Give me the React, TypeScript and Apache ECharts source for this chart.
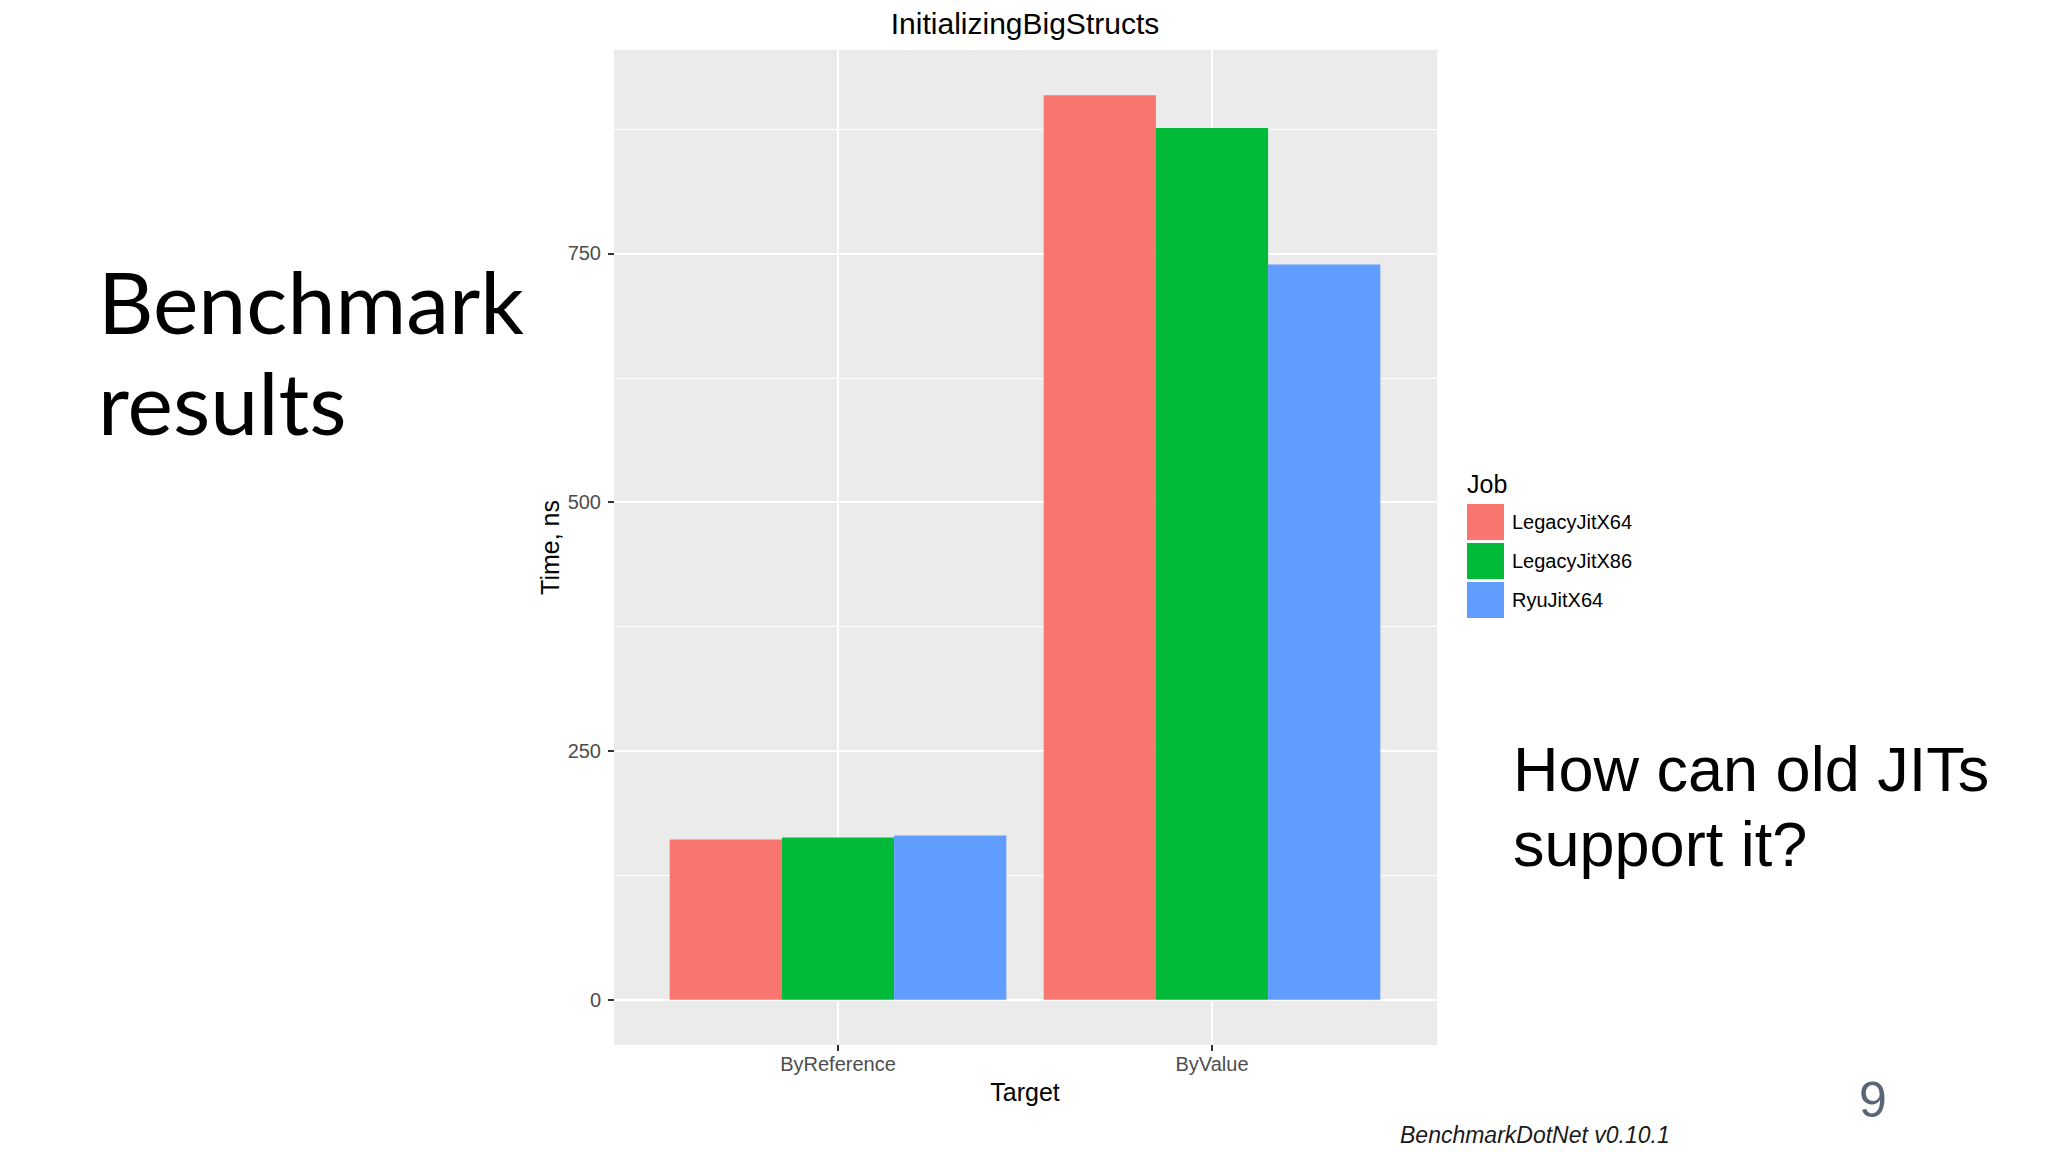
import React, { useEffect, useRef } from "react";
import * as echarts from "echarts";

// ---- data ----
const categories = ["ByReference", "ByValue"];
const jobs = ["LegacyJitX64", "LegacyJitX86", "RyuJitX64"];
const legacyJitX64 = [161, 909];
const legacyJitX86 = [163, 876];
const ryuJitX64 = [165, 739];
const majorTicks = [0, 250, 500, 750];
const minorTicks = [125, 375, 625, 875];
const jobColors = ["#F8766D", "#00BA38", "#619CFF"];

const chartTitle = "InitializingBigStructs";
const xTitle = "Target";
const yTitle = "Time, ns";
const legendTitle = "Job";

const FONT = '"Liberation Sans", Arial, sans-serif';

export default function App() {
  const ref = useRef<HTMLDivElement>(null);

  useEffect(() => {
    if (!ref.current) return;
    const chart = echarts.init(ref.current, null, { renderer: "svg" });

    const seriesValues = [legacyJitX64, legacyJitX86, ryuJitX64];
    const maxVal = Math.max(...seriesValues.flat());
    const yMin = -0.05 * maxVal;
    const yMax = maxVal * 1.05;

    const option: any = {
      animation: false,
      backgroundColor: "#ffffff",
      textStyle: { fontFamily: FONT },
      grid: [
        {
          left: 614,
          top: 50,
          width: 823,
          height: 995,
          show: true,
          backgroundColor: "#EBEBEB",
          borderWidth: 0,
          containLabel: false,
          outerBoundsMode: "none",
        },
        {
          left: 651,
          top: 50,
          width: 748,
          height: 995,
          show: false,
          containLabel: false,
          outerBoundsMode: "none",
        },
      ],
      xAxis: [
        { type: "value", gridIndex: 0, min: 0, max: 1, show: false },
        {
          type: "category",
          gridIndex: 1,
          position: "bottom",
          data: categories,
          axisLine: { show: false, onZero: false },
          axisTick: {
            show: true,
            alignWithLabel: true,
            length: 6,
            lineStyle: { color: "#333333", width: 2 },
          },
          axisLabel: {
            fontSize: 20,
            color: "#4D4D4D",
            margin: 9,
            fontFamily: FONT,
          },
          splitLine: {
            show: true,
            alignWithLabel: true,
            lineStyle: { color: "#ffffff", width: 2 },
          },
          name: xTitle,
          nameLocation: "middle",
          nameGap: 34,
          nameTextStyle: { fontSize: 25, color: "#000000", fontFamily: FONT },
        },
      ],
      yAxis: [
        {
          type: "value",
          gridIndex: 0,
          min: yMin,
          max: yMax,
          axisLine: { show: false, onZero: false },
          axisTick: {
            show: true,
            length: 6,
            customValues: majorTicks,
            lineStyle: { color: "#333333", width: 2 },
          },
          axisLabel: {
            customValues: majorTicks,
            fontSize: 20,
            color: "#4D4D4D",
            margin: 13,
            fontFamily: FONT,
          },
          splitLine: { show: true, lineStyle: { color: "#ffffff", width: 2 } },
          name: yTitle,
          nameLocation: "middle",
          nameGap: 52,
          nameRotate: 90,
          nameTextStyle: { fontSize: 25, color: "#000000", fontFamily: FONT },
        },
        {
          type: "value",
          gridIndex: 0,
          position: "right",
          min: yMin,
          max: yMax,
          axisLine: { show: false, onZero: false },
          axisTick: { show: false, customValues: minorTicks },
          axisLabel: { show: false, customValues: minorTicks },
          splitLine: { show: true, lineStyle: { color: "#ffffff", width: 1 } },
        },
        { type: "value", gridIndex: 1, min: yMin, max: yMax, show: false },
      ],
      legend: {
        orient: "vertical",
        left: 1467,
        top: 504,
        padding: 0,
        itemWidth: 37,
        itemHeight: 36,
        itemGap: 3,
        icon: "rect",
        selectedMode: false,
        data: jobs,
        textStyle: {
          fontSize: 20,
          color: "#000000",
          fontFamily: FONT,
          padding: [0, 0, 0, 3],
        },
      },
      series: jobs.map((name, i) => ({
        type: "bar",
        name,
        xAxisIndex: 1,
        yAxisIndex: 2,
        data: seriesValues[i],
        itemStyle: { color: jobColors[i] },
        barGap: "0%",
        barCategoryGap: "10%",
      })),
      graphic: [
        {
          type: "text",
          x: 1025,
          y: 23,
          style: {
            text: chartTitle,
            fontSize: 30,
            fontFamily: FONT,
            fill: "#000000",
            align: "center",
            verticalAlign: "middle",
          },
        },
        {
          type: "text",
          x: 1467,
          y: 484,
          style: {
            text: legendTitle,
            fontSize: 25,
            fontFamily: FONT,
            fill: "#000000",
            align: "left",
            verticalAlign: "middle",
          },
        },
        {
          type: "text",
          x: 98,
          y: 300,
          style: {
            text: "Benchmark",
            fontSize: 86,
            fontFamily: "Lato, 'Open Sans', sans-serif",
            fontWeight: 400,
            fill: "#000000",
            align: "left",
            verticalAlign: "middle",
          },
        },
        {
          type: "text",
          x: 98,
          y: 401,
          style: {
            text: "results",
            fontSize: 86,
            fontFamily: "Lato, 'Open Sans', sans-serif",
            fontWeight: 400,
            fill: "#000000",
            align: "left",
            verticalAlign: "middle",
          },
        },
        {
          type: "text",
          x: 1513,
          y: 769,
          style: {
            text: "How can old JITs",
            fontSize: 63,
            fontFamily: FONT,
            fill: "#000000",
            align: "left",
            verticalAlign: "middle",
          },
        },
        {
          type: "text",
          x: 1513,
          y: 844,
          style: {
            text: "support it?",
            fontSize: 63,
            fontFamily: FONT,
            fill: "#000000",
            align: "left",
            verticalAlign: "middle",
          },
        },
        {
          type: "text",
          x: 1873,
          y: 1100,
          style: {
            text: "9",
            fontSize: 50,
            fontFamily: FONT,
            fill: "#596677",
            align: "center",
            verticalAlign: "middle",
          },
        },
        {
          type: "text",
          x: 1400,
          y: 1135,
          style: {
            text: "BenchmarkDotNet v0.10.1",
            fontSize: 23,
            fontStyle: "italic",
            fontFamily: FONT,
            fill: "#1a1a1a",
            align: "left",
            verticalAlign: "middle",
          },
        },
      ],
    };

    chart.setOption(option);
    return () => {
      chart.dispose();
    };
  }, []);

  return (
    <div
      ref={ref}
      style={{ position: "fixed", left: 0, top: 0, width: 2048, height: 1152 }}
    />
  );
}
